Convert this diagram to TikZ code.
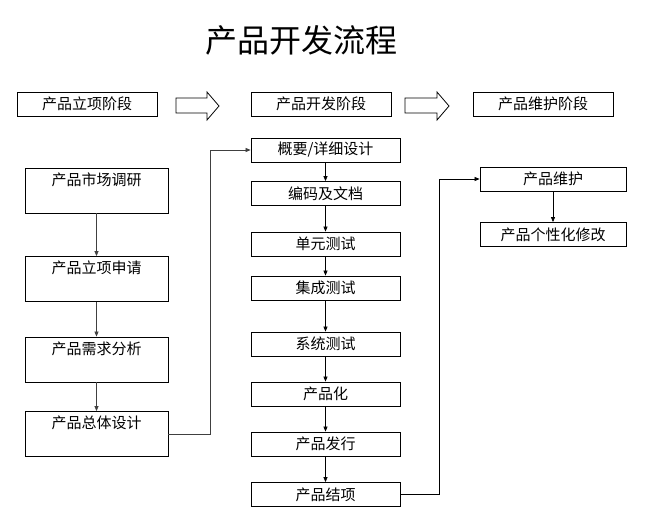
\documentclass[tikz,border=0pt]{standalone}
\usepackage{fontspec}
\setmainfont{Noto Sans CJK SC}
\usetikzlibrary{positioning,arrows.meta}

\begin{document}
\begin{tikzpicture}[x=1pt, y=-1pt, >={Triangle[length=5pt,width=4pt]},
        phase/.style={draw, line width=0.8pt, minimum width=140pt, minimum height=24pt, inner sep=0pt, font=\fontsize{15}{15}\selectfont},
        task/.style={draw, line width=0.8pt, minimum width=143pt, inner sep=0pt, text height=17pt, text depth=28pt, font=\fontsize{15}{15}\selectfont},
        devbox/.style={draw, line width=0.8pt, minimum width=149pt, minimum height=24pt, inner sep=0pt, font=\fontsize{15}{15}\selectfont},
        fixbox/.style={draw, line width=0.8pt, minimum width=146pt, minimum height=24pt, inner sep=0pt, font=\fontsize{15}{15}\selectfont},
        link/.style={->, line width=0.7pt},
        bigarrow/.style={draw, line width=0.8pt}]
        \useasboundingbox (0,0) rectangle (650,523);

        \node[font=\fontsize{32}{32}\selectfont] (title) at (301,40) {产品开发流程};

        % phases
        \node[phase] (P1) at (87,104) {产品立项阶段};
        \node[phase] (P2) at (321,104) {产品开发阶段};
        \node[phase] (P3) at (543,104) {产品维护阶段};
        \draw[bigarrow] (176,98) -- (207,98) -- (207,92) -- (219,106) -- (207,120) -- (207,113) -- (176,113) -- cycle;
        \draw[bigarrow] (405,98) -- (437,98) -- (437,92) -- (449,106) -- (437,120) -- (437,113) -- (405,113) -- cycle;

        % left column
        \node[task] (A1) at (96.5,190.5) {产品市场调研};
        \node[task] (A2) at (96.5,279) {产品立项申请};
        \node[task] (A3) at (96.5,359.5) {产品需求分析};
        \node[task] (A4) at (96.5,434) {产品总体设计};

        % middle column
        \node[devbox] (D1) at (325.5,150) {概要/详细设计};
        \node[devbox] (D2) at (325.5,193.5) {编码及文档};
        \node[devbox] (D3) at (325.5,244) {单元测试};
        \node[devbox] (D4) at (325.5,288) {集成测试};
        \node[devbox] (D5) at (325.5,344) {系统测试};
        \node[devbox] (D6) at (325.5,394) {产品化};
        \node[devbox] (D7) at (325.5,444) {产品发行};
        \node[devbox] (D8) at (325.5,494.5) {产品结项};

        % right column
        \node[fixbox] (M1) at (553,179) {产品维护};
        \node[fixbox] (M2) at (553,234.5) {产品个性化修改};

        \draw[link, black!75] (A1) -- (A2);
        \draw[link, black!75] (A2) -- (A3);
        \draw[link, black!75] (A3) -- (A4);
        \draw[link, black!75] (A4.east) -- ++(42,0) |- (D1.west);

        \draw[link] (D1) -- (D2);
        \draw[link] (D2) -- (D3);
        \draw[link] (D3) -- (D4);
        \draw[link] (D4) -- (D5);
        \draw[link] (D5) -- (D6);
        \draw[link] (D6) -- (D7);
        \draw[link] (D7) -- (D8);
        \draw[link] (D8.east) -- ++(39,0) |- (M1.west);

        \draw[link] (M1) -- (M2);
\end{tikzpicture}
\end{document}
